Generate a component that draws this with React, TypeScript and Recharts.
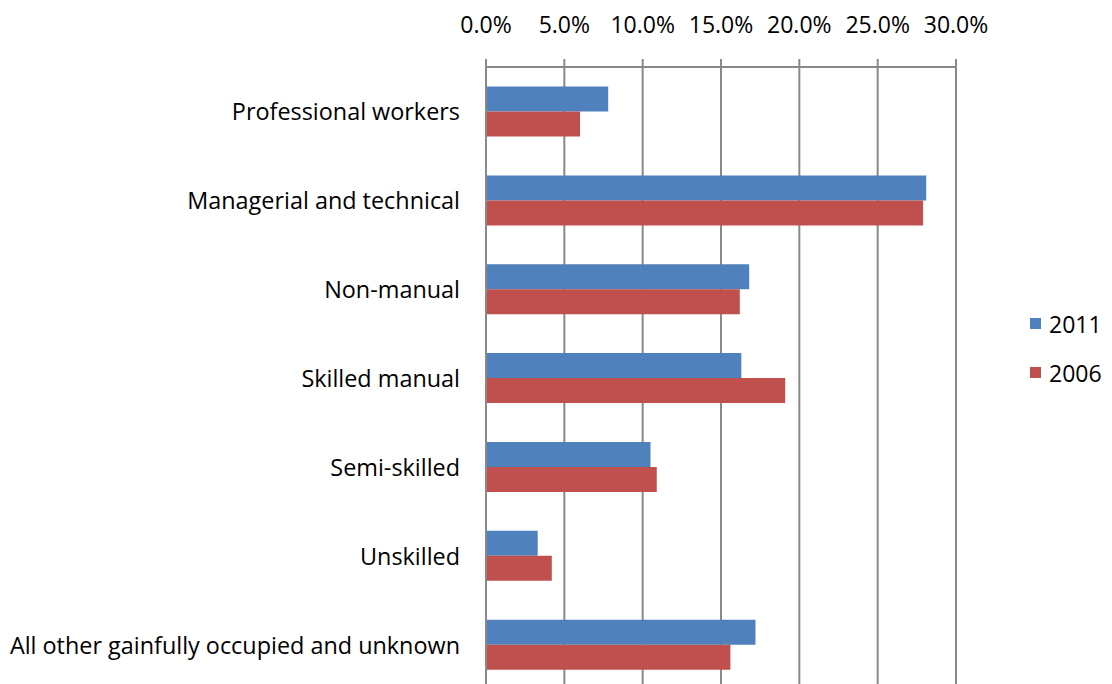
import React from "react";
import { BarChart, Bar, XAxis, YAxis, CartesianGrid } from "recharts";

const categories = [
  "Professional workers",
  "Managerial and technical",
  "Non-manual",
  "Skilled manual",
  "Semi-skilled",
  "Unskilled",
  "All other gainfully occupied and unknown",
];
const values2011 = [7.8, 28.1, 16.8, 16.3, 10.5, 3.3, 17.2];
const values2006 = [6.0, 27.9, 16.2, 19.1, 10.9, 4.2, 15.6];
const xTicks = [0, 5, 10, 15, 20, 25, 30];
const seriesNames = ["2011", "2006"];

const data = categories.map((name, i) => ({
  name,
  y2011: values2011[i],
  y2006: values2006[i],
}));

const FONT = "'Open Sans', sans-serif";
const GRID = "#898989";
const BLUE = "#4F81BD";
const RED = "#C0504D";

const XTick = (props: any) => {
  const { x, payload } = props;
  return (
    <text x={x} y={24} textAnchor="middle" dominantBaseline="central" fontFamily={FONT} fontSize={23} fill="#000">
      {payload.value.toFixed(1) + "%"}
    </text>
  );
};

const YTick = (props: any) => {
  const { y, payload } = props;
  return (
    <text x={460} y={y} textAnchor="end" dominantBaseline="central" fontFamily={FONT} fontSize={23.4} fill="#000">
      {payload.value}
    </text>
  );
};

export default function App() {
  const legendItems = [
    { label: seriesNames[0], color: BLUE },
    { label: seriesNames[1], color: RED },
  ];
  return (
    <div style={{ position: "absolute", left: 0, top: 0, width: 1112, height: 684, overflow: "hidden", background: "#fff" }}>
      <BarChart
        width={1112}
        height={700}
        data={data}
        layout="vertical"
        margin={{ top: 0, right: 156, bottom: 11, left: 0 }}
        barCategoryGap="22%"
        barGap={0}
      >
        <CartesianGrid horizontal={false} vertical={true} stroke={GRID} strokeWidth={2} />
        <XAxis
          type="number"
          orientation="top"
          domain={[0, 30]}
          ticks={xTicks}
          height={67}
          axisLine={{ stroke: GRID, strokeWidth: 2 }}
          tickLine={{ stroke: GRID, strokeWidth: 2 }}
          tickSize={8}
          tick={<XTick />}
          interval={0}
        />
        <YAxis
          type="category"
          dataKey="name"
          width={486}
          axisLine={{ stroke: GRID, strokeWidth: 2 }}
          tickLine={false}
          tick={<YTick />}
          interval={0}
        />
        <Bar dataKey="y2011" name={seriesNames[0]} fill={BLUE} isAnimationActive={false} />
        <Bar dataKey="y2006" name={seriesNames[1]} fill={RED} isAnimationActive={false} />
      </BarChart>
      <div style={{ position: "absolute", left: 1030, top: 299, fontFamily: FONT, fontSize: 23, color: "#000" }}>
        {legendItems.map((it) => (
          <div key={it.label} style={{ display: "flex", alignItems: "center", height: 49 }}>
            <div style={{ width: 11, height: 11, background: it.color, marginRight: 8 }} />
            <span>{it.label}</span>
          </div>
        ))}
      </div>
    </div>
  );
}
